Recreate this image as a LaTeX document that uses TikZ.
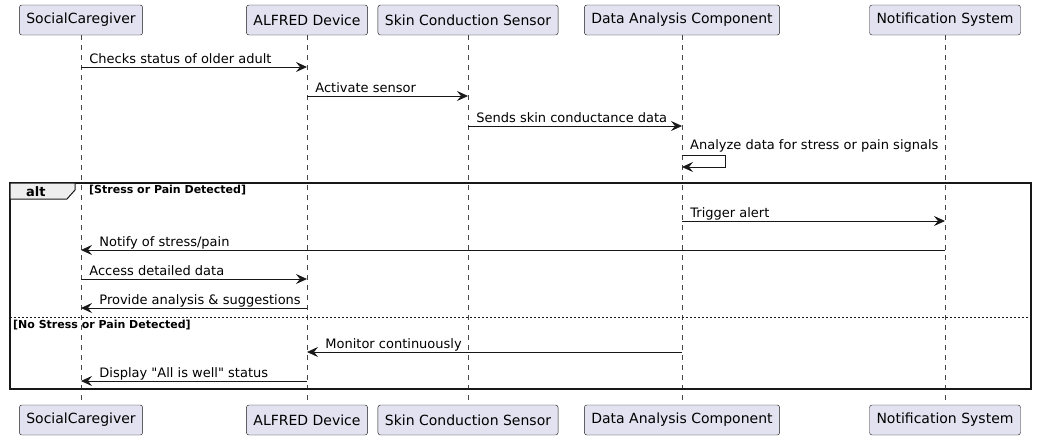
\documentclass[tikz,border=0pt]{standalone}
\usepackage{fontspec}
\setmainfont{DejaVu Sans}
\usetikzlibrary{arrows.meta}
\definecolor{partfill}{HTML}{E2E2F0}
\definecolor{partline}{HTML}{181818}
\definecolor{tabfill}{HTML}{EEEEEE}
\begin{document}
\begin{tikzpicture}[x=1pt, y=-1pt,
      part/.style = {draw=partline, fill=partfill, rounded corners=2.5pt,
                     minimum height=30pt, inner xsep=7pt,
                     font=\fontsize{14}{16}\selectfont},
      life/.style = {draw=partline!80, dash pattern=on 5pt off 5pt, line width=0.5pt},
      msg/.style = {draw=partline, line width=0.8pt,
                    -{Stealth[length=11pt, width=10pt, inset=4pt]}},
      lbl/.style = {anchor=base west, inner sep=0pt, font=\fontsize{13}{15}\selectfont},
      guard/.style = {anchor=base west, inner sep=0pt, font=\fontsize{11}{13}\selectfont\bfseries}]
    \useasboundingbox (0,0) rectangle (1037,440);
    % participants, top and bottom
    \node[part] (cg) at (81,20) {SocialCaregiver};
    \node[part] (alfred) at (307,20) {ALFRED Device};
    \node[part] (sensor) at (468,20) {Skin Conduction Sensor};
    \node[part] (analysis) at (682,20) {Data Analysis Component};
    \node[part] (notif) at (945,20) {Notification System};
    \node[part] (cgB) at (81,420) {SocialCaregiver};
    \node[part] (alfredB) at (307,420) {ALFRED Device};
    \node[part] (sensorB) at (468,420) {Skin Conduction Sensor};
    \node[part] (analysisB) at (682,420) {Data Analysis Component};
    \node[part] (notifB) at (945,420) {Notification System};
    \foreach \p in {cg, alfred, sensor, analysis, notif}
      \draw[life] (\p.south) -- (\p B.north);
    % messages
    \draw[msg] (cg |- 0,67) -- node[lbl, pos=0, xshift=8pt, yshift=4pt] {Checks status of older adult} (alfred |- 0,67);
    \draw[msg] (alfred |- 0,96) -- node[lbl, pos=0, xshift=8pt, yshift=4pt] {Activate sensor} (sensor |- 0,96);
    \draw[msg] (sensor |- 0,126) -- node[lbl, pos=0, xshift=8pt, yshift=4pt] {Sends skin conductance data} (analysis |- 0,126);
    \draw[msg] (analysis |- 0,155) -- ++(43,0) -- ++(0,12) -- (analysis |- 0,167);
    \node[lbl] (selflbl) at (690,149) {Analyze data for stress or pain signals};
    % alt frame
    \draw[partline, line width=1.5pt] (10,183) rectangle (1031,389);
    \draw[partline, fill=tabfill, line width=1pt] (10,183) -- (75,183) -- (75,190) -- (67,199) -- (10,199) -- cycle;
    \node[anchor=base west, inner sep=0pt, font=\fontsize{13}{15}\selectfont\bfseries] (alt) at (26,196) {alt};
    \node[guard] (g1) at (89,193) {[Stress or Pain Detected]};
    \draw[msg] (analysis |- 0,221) -- node[lbl, pos=0, xshift=8pt, yshift=4pt] {Trigger alert} (notif |- 0,221);
    \draw[msg] (notif |- 0,250) -- node[lbl, pos=1, xshift=18pt, yshift=4pt] {Notify of stress/pain} (cg |- 0,250);
    \draw[msg] (cg |- 0,279) -- node[lbl, pos=0, xshift=8pt, yshift=4pt] {Access detailed data} (alfred |- 0,279);
    \draw[msg] (alfred |- 0,308) -- node[lbl, pos=1, xshift=18pt, yshift=4pt] {Provide analysis \& suggestions} (cg |- 0,308);
    \draw[partline, dash pattern=on 2pt off 2pt, line width=0.8pt] (10,317) -- (1031,317);
    \node[guard] (g2) at (13,328) {[No Stress or Pain Detected]};
    \draw[msg] (analysis |- 0,352) -- node[lbl, pos=1, xshift=18pt, yshift=4pt] {Monitor continuously} (alfred |- 0,352);
    \draw[msg] (alfred |- 0,381) -- node[lbl, pos=1, xshift=18pt, yshift=4pt] {Display \textquotedbl All is well\textquotedbl{} status} (cg |- 0,381);
\end{tikzpicture}
\end{document}
